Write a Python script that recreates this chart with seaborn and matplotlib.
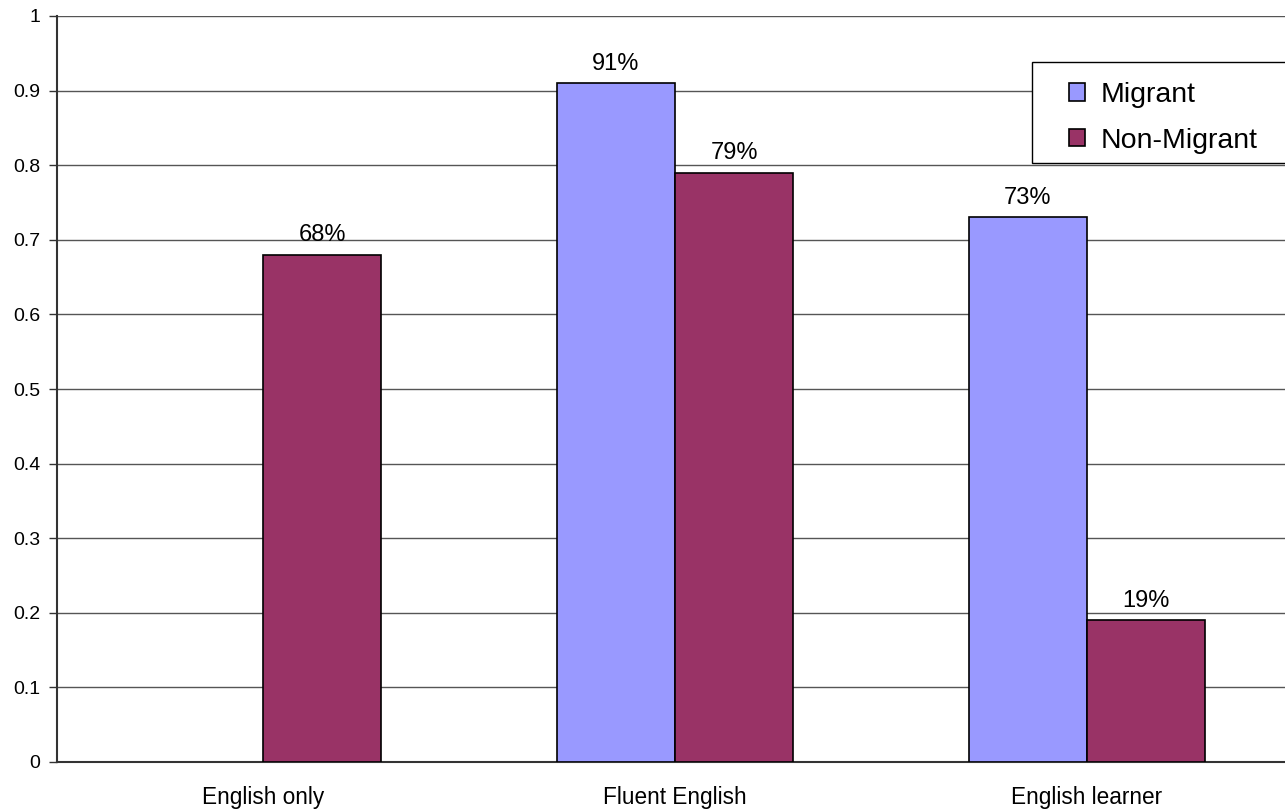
import numpy as np
import pandas as pd
import matplotlib
matplotlib.use("Agg")
import matplotlib.pyplot as plt
from matplotlib.patches import Rectangle
from matplotlib.ticker import FixedLocator
import seaborn as sns

# Share of students by language status and migrant status
categories = ["English only", "Fluent English", "English learner"]
migrant = [np.nan, 0.91, 0.73]
non_migrant = [0.68, 0.79, 0.19]
groups = ["Migrant", "Non-Migrant"]
colors = {"Migrant": "#9999FF", "Non-Migrant": "#993366"}
y_ticks = [0, 0.1, 0.2, 0.3, 0.4, 0.5, 0.6, 0.7, 0.8, 0.9, 1]
y_tick_labels = ["0", "0.1", "0.2", "0.3", "0.4", "0.5", "0.6", "0.7", "0.8", "0.9", "1"]

df = pd.DataFrame({
    "category": categories * 2,
    "group": ["Migrant"] * len(categories) + ["Non-Migrant"] * len(categories),
    "value": migrant + non_migrant,
})

sns.set_style("white")
plt.rcParams["font.family"] = ["Liberation Sans", "DejaVu Sans"]
plt.rcParams["text.color"] = "black"
plt.rcParams["xtick.color"] = "black"
plt.rcParams["ytick.color"] = "black"

W, H = 1285, 809
fig = plt.figure(figsize=(W / 100, H / 100), dpi=100)
fig.patch.set_facecolor("white")
left, right, top, bottom = 57, 1293, 16, 762
ax = fig.add_axes([left / W, (H - bottom) / H, (right - left) / W, (bottom - top) / H])

sns.barplot(data=df, x="category", y="value", hue="group", order=categories,
            hue_order=groups, palette=colors, saturation=1, width=0.573, gap=0,
            edgecolor="black", linewidth=1.2, ax=ax, legend=True,
            errorbar=None, zorder=3)

ax.set_xlim(-0.5, 2.5)
ax.set_ylim(0, 1)
ax.set_yticks(y_ticks)
ax.set_yticklabels(y_tick_labels, fontsize=14)
ax.yaxis.grid(True, color="#555555", linewidth=1, zorder=0)
ax.set_axisbelow(True)
ax.set_xlabel("")
ax.set_ylabel("")

# category boundary ticks, labels centred on each group
ax.xaxis.set_minor_locator(FixedLocator([-0.5, 0.5, 1.5, 2.5]))
ax.tick_params(axis="x", which="major", length=0, pad=17, labelsize=16.3,
               labelcolor="black")
ax.tick_params(axis="x", which="minor", length=6, width=1, color="#333333", direction="out")
ax.tick_params(axis="y", which="major", length=6, width=1, color="#333333",
               direction="out", left=True, pad=6, labelcolor="black")

for side in ("top", "right"):
    ax.spines[side].set_visible(False)
for side in ("left", "bottom"):
    ax.spines[side].set_color("#333333")
    ax.spines[side].set_linewidth(1.5)

# value labels above bars
for container in ax.containers:
    labels = ["" if np.isnan(p.get_height()) else f"{p.get_height() * 100:.0f}%"
              for p in container]
    ax.bar_label(container, labels=labels, padding=6, fontsize=17, color="black")

# legend: frame drawn as a rectangle, entries placed inside it
ax.add_patch(Rectangle((1032 / W, 1 - 163 / H), (1300 - 1032) / W, (163 - 62) / H,
                       transform=fig.transFigure, facecolor="white",
                       edgecolor="black", linewidth=1, zorder=5, clip_on=False))
leg = ax.legend(loc="upper left", bbox_to_anchor=(1069 / W, 1 - 82 / H),
                bbox_transform=fig.transFigure, fontsize=20.5, frameon=False,
                handlelength=0.55, handleheight=0.55, handletextpad=0.55,
                borderpad=0, labelspacing=0.7, borderaxespad=0)
leg.set_zorder(6)
for h in leg.legend_handles:
    h.set_edgecolor("black")
    h.set_linewidth(1.2)

fig.savefig("out.png", dpi=100, facecolor="white")
